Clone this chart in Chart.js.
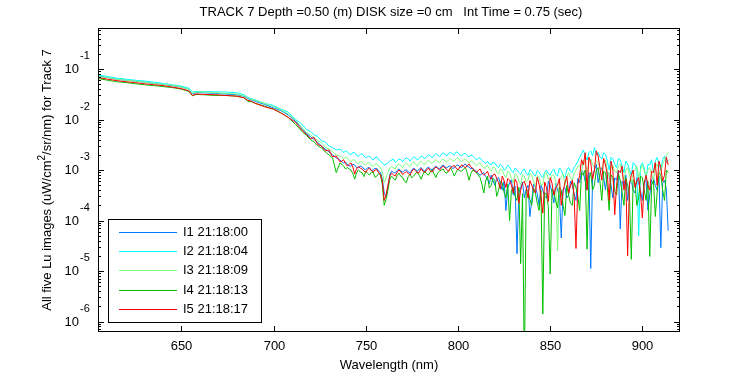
<!DOCTYPE html>
<html lang="en">
<head>
<meta charset="UTF-8">
<title>TRACK 7 Lu images</title>
<script src="https://cdn.jsdelivr.net/npm/chart.js"></script>
<style>
    html, body { margin: 0; padding: 0; background: #fff; }
    .chart-container { position: relative; width: 750px; height: 375px; }
</style>
</head>
<body>
<div class="chart-container"><canvas id="luChart"></canvas></div>
<script>
// wavelengths (nm), shared by all five images
const wavelengths = [
    605, 610, 615, 620, 625, 630, 635, 640, 645, 650, 654, 656, 658, 662, 668, 674, 680, 684, 686, 688, 690, 695, 700, 704, 708,
    712, 714, 716, 718, 720, 722, 724, 726, 728, 730, 732, 734,
    736, 737, 738, 739, 740, 741, 742, 743, 744, 745,
    746, 747, 748, 749, 750, 751, 752, 753, 754, 755,
    756, 757, 758, 759, 760, 761, 762, 763, 764, 765,
    766, 767, 768, 769, 770, 771, 772, 773, 774, 775,
    776, 777, 778, 779, 780, 781, 782, 783, 784, 785,
    786, 787, 788, 789, 790, 791, 792, 793, 794, 795,
    796, 797, 798, 799, 800, 801, 802, 803, 804, 805,
    806, 807, 808, 809, 810, 811, 812, 813, 814,
    815, 816, 817, 818, 819, 820, 821, 822, 823, 824,
    825, 826, 827, 828, 829, 830, 831, 832, 833, 834,
    835, 836, 837, 838, 839, 840, 841, 842, 843, 844,
    845, 846, 847, 848, 849, 850, 851, 852, 853, 854,
    855, 856, 857, 858, 859, 860, 861, 862, 863, 864,
    865, 866, 867, 868, 869, 870, 871, 872, 873, 874,
    875, 876, 877, 878, 879, 880, 881, 882, 883, 884,
    885, 886, 887, 888, 889, 890, 891, 892, 893, 894,
    895, 896, 897, 898, 899, 900, 901, 902, 903, 904,
    905, 906, 907, 908, 909, 910, 911, 912, 913, 914
];

// Lu, uW/cm^2/sr/nm
const luI1 = [
    7.2e-2, 6.8e-2, 6.3e-2, 6.0e-2, 5.8e-2, 5.5e-2, 5.2e-2, 5.0e-2, 4.7e-2, 4.4e-2, 4.0e-2, 3.2e-2, 3.4e-2, 3.4e-2, 3.3e-2, 3.2e-2, 3.1e-2, 2.9e-2, 2.6e-2, 2.45e-2, 2.3e-2, 2.0e-2, 1.7e-2, 1.5e-2, 1.23e-2,
    9.1e-3, 7.6e-3, 6.3e-3, 5.2e-3, 4.6e-3, 4.0e-3, 3.5e-3, 3.0e-3, 2.6e-3, 2.3e-3, 2.0e-3, 1.74e-3,
    1.58e-3, 1.45e-3, 1.38e-3, 1.42e-3, 1.32e-3, 1.2e-3, 1.2e-3, 1.3e-3, 1.26e-3, 1.12e-3,
    1.1e-3, 1.2e-3, 1.17e-3, 1.05e-3, 1.02e-3, 1.1e-3, 1.12e-3, 9.8e-4, 1.0e-3, 1.08e-3,
    1.07e-3, 9.5e-4, 8.9e-4, 6.5e-4, 3.5e-4, 3.0e-4, 4.5e-4, 8.0e-4, 9.5e-4, 9.0e-4,
    8.7e-4, 9.8e-4, 1.05e-3, 9.6e-4, 9.1e-4, 9.8e-4, 1.02e-3, 9.2e-4, 8.7e-4, 1.0e-3,
    1.1e-3, 1.0e-3, 9.5e-4, 1.05e-3, 1.12e-3, 1.0e-3, 9.5e-4, 1.08e-3, 1.15e-3, 1.05e-3,
    1.0e-3, 1.12e-3, 1.2e-3, 1.1e-3, 1.05e-3, 1.18e-3, 1.26e-3, 1.15e-3, 1.1e-3, 1.2e-3,
    1.2e-3, 1.08e-3, 1.1e-3, 1.22e-3, 1.26e-3, 1.15e-3, 1.12e-3, 1.25e-3, 1.32e-3, 1.2e-3,
    1.15e-3, 1.05e-3, 1.1e-3, 9.8e-4, 9.5e-4, 8.5e-4, 7.9e-4, 8.4e-4, 8.9e-4,
    7.4e-4, 6.6e-4, 5.4e-4, 7.9e-4, 6.2e-4, 5.0e-4, 6.6e-4, 7.1e-4, 5.5e-4, 4.0e-4,
    6.0e-4, 1.58e-4, 4.4e-4, 5.6e-4, 6.4e-4, 3.2e-4, 4.8e-4, 2.2e-5, 3.6e-4, 4.5e-4,
    5.8e-4, 2.8e-4, 4.2e-4, 5.0e-4, 1.2e-4, 2.5e-4, 5.2e-4, 4.5e-4, 3.4e-4, 2.0e-4,
    5.0e-4, 4.0e-4, 3.0e-4, 2.8e-4, 6.0e-4, 5.0e-4, 3.6e-4, 2.24e-4, 5.5e-4, 4.0e-4,
    3.2e-4, 4.5e-5, 4.2e-4, 4.5e-4, 2.8e-4, 3.2e-4, 6.0e-4, 5.0e-4, 3.4e-4, 2.5e-4,
    6.8e-4, 5.6e-4, 1.0e-3, 8.9e-4, 6.0e-4, 4.0e-4, 9.0e-4, 1.12e-5, 7.5e-4, 1.0e-3,
    1.3e-3, 5.6e-4, 8.5e-4, 1.12e-3, 7.2e-4, 4.0e-4, 9.5e-4, 7.9e-4, 5.0e-4, 2.8e-4,
    7.0e-4, 6.3e-4, 1.0e-3, 6.8e-5, 6.0e-4, 5.0e-4, 8.0e-4, 2.5e-4, 5.2e-4, 6.3e-4,
    4.0e-4, 3.5e-4, 7.0e-4, 5.6e-4, 3.8e-4, 2.5e-4, 5.8e-4, 6.3e-4, 1.6e-4, 3.2e-4,
    6.5e-4, 7.1e-4, 5.0e-4, 4.0e-4, 7.5e-4, 2.9e-5, 5.5e-4, 6.3e-4, 4.2e-4, 6.3e-5
];
const luI2 = [
    7.6e-2, 7.1e-2, 6.6e-2, 6.3e-2, 6.0e-2, 5.8e-2, 5.5e-2, 5.2e-2, 4.9e-2, 4.6e-2, 4.2e-2, 3.5e-2, 3.6e-2, 3.55e-2, 3.55e-2, 3.5e-2, 3.4e-2, 3.1e-2, 2.75e-2, 2.6e-2, 2.45e-2, 2.1e-2, 1.9e-2, 1.6e-2, 1.4e-2,
    1.0e-2, 8.9e-3, 7.6e-3, 6.3e-3, 5.8e-3, 5.0e-3, 4.6e-3, 3.8e-3, 3.6e-3, 3.0e-3, 2.8e-3, 2.5e-3,
    2.6e-3, 2.45e-3, 2.2e-3, 2.4e-3, 2.3e-3, 2.1e-3, 2.0e-3, 2.25e-3, 2.2e-3, 1.95e-3,
    1.86e-3, 2.05e-3, 2.1e-3, 1.9e-3, 1.74e-3, 1.85e-3, 1.9e-3, 1.7e-3, 1.58e-3, 1.75e-3,
    1.82e-3, 1.6e-3, 1.5e-3, 1.4e-3, 1.26e-3, 1.3e-3, 1.38e-3, 1.5e-3, 1.58e-3, 1.65e-3,
    1.4e-3, 1.55e-3, 1.66e-3, 1.6e-3, 1.45e-3, 1.62e-3, 1.74e-3, 1.68e-3, 1.5e-3, 1.7e-3,
    1.82e-3, 1.75e-3, 1.58e-3, 1.7e-3, 1.9e-3, 1.8e-3, 1.66e-3, 1.85e-3, 2.0e-3, 1.9e-3,
    1.74e-3, 1.95e-3, 2.1e-3, 2.0e-3, 1.82e-3, 2.05e-3, 2.2e-3, 2.05e-3, 1.9e-3, 2.15e-3,
    2.24e-3, 2.1e-3, 2.0e-3, 2.3e-3, 2.2e-3, 2.0e-3, 1.9e-3, 2.1e-3, 2.14e-3, 1.95e-3,
    1.82e-3, 2.0e-3, 1.9e-3, 1.75e-3, 1.58e-3, 1.7e-3, 1.74e-3, 1.55e-3, 1.45e-3,
    1.35e-3, 1.5e-3, 1.32e-3, 1.26e-3, 1.45e-3, 1.38e-3, 1.2e-3, 1.12e-3, 1.3e-3, 1.2e-3,
    1.0e-3, 1.05e-3, 1.25e-3, 1.15e-3, 9.6e-4, 8.9e-4, 1.1e-3, 1.0e-3, 9.0e-4, 8.3e-4,
    9.8e-4, 1.05e-3, 8.6e-4, 7.9e-4, 1.02e-3, 9.5e-4, 8.2e-4, 7.6e-4, 9.8e-4, 9.1e-4,
    7.8e-4, 7.1e-4, 9.0e-4, 1.0e-3, 8.4e-4, 7.9e-4, 9.6e-4, 1.05e-3, 8.2e-4, 7.6e-4,
    1.1e-3, 1.0e-3, 8.0e-4, 7.1e-4, 1.0e-3, 1.12e-3, 9.4e-4, 8.9e-4, 1.15e-3, 1.26e-3,
    1.5e-3, 1.78e-3, 2.1e-3, 2.5e-3, 1.9e-3, 1.58e-3, 2.2e-3, 2.4e-3, 1.9e-3, 2.8e-3,
    2.0e-3, 2.24e-3, 1.8e-3, 1.66e-3, 2.2e-3, 2.0e-3, 1.5e-3, 1.0e-3, 1.8e-3, 1.66e-3,
    1.3e-3, 1.12e-3, 1.7e-3, 1.58e-3, 1.2e-3, 8.9e-4, 1.5e-3, 1.32e-3, 1.0e-3, 7.9e-4,
    1.4e-3, 1.26e-3, 1.1e-3, 5.0e-5, 1.2e-3, 1.4e-3, 1.1e-3, 6.3e-4, 1.3e-3, 1.26e-3,
    1.6e-3, 8.9e-4, 1.5e-3, 1.78e-3, 1.3e-3, 1.0e-3, 1.6e-3, 1.9e-3, 1.4e-3, 1.58e-3
];
const luI3 = [
    7.1e-2, 6.8e-2, 6.3e-2, 6.0e-2, 5.8e-2, 5.5e-2, 5.2e-2, 5.0e-2, 4.8e-2, 4.4e-2, 4.0e-2, 3.3e-2, 3.5e-2, 3.5e-2, 3.4e-2, 3.3e-2, 3.2e-2, 2.95e-2, 2.7e-2, 2.5e-2, 2.4e-2, 2.1e-2, 1.8e-2, 1.55e-2, 1.3e-2,
    9.5e-3, 7.9e-3, 6.6e-3, 5.5e-3, 5.0e-3, 4.4e-3, 3.8e-3, 3.5e-3, 2.8e-3, 2.6e-3, 2.3e-3, 2.0e-3,
    1.9e-3, 1.8e-3, 1.66e-3, 1.8e-3, 1.74e-3, 1.55e-3, 1.45e-3, 1.6e-3, 1.58e-3, 1.4e-3,
    1.32e-3, 1.5e-3, 1.45e-3, 1.3e-3, 1.26e-3, 1.4e-3, 1.38e-3, 1.22e-3, 1.17e-3, 1.3e-3,
    1.32e-3, 1.18e-3, 1.12e-3, 9.0e-4, 5.6e-4, 7.0e-4, 8.9e-4, 1.1e-3, 1.2e-3, 1.1e-3,
    1.05e-3, 1.25e-3, 1.32e-3, 1.2e-3, 1.12e-3, 1.28e-3, 1.38e-3, 1.25e-3, 1.17e-3, 1.35e-3,
    1.45e-3, 1.3e-3, 1.2e-3, 1.4e-3, 1.5e-3, 1.35e-3, 1.26e-3, 1.45e-3, 1.58e-3, 1.42e-3,
    1.35e-3, 1.5e-3, 1.62e-3, 1.48e-3, 1.4e-3, 1.55e-3, 1.66e-3, 1.5e-3, 1.45e-3, 1.6e-3,
    1.7e-3, 1.55e-3, 1.5e-3, 1.68e-3, 1.74e-3, 1.58e-3, 1.45e-3, 1.6e-3, 1.66e-3, 1.5e-3,
    1.38e-3, 1.52e-3, 1.5e-3, 1.32e-3, 1.2e-3, 1.35e-3, 1.38e-3, 1.2e-3, 1.1e-3,
    1.1e-3, 1.26e-3, 1.05e-3, 9.5e-4, 1.15e-3, 1.12e-3, 9.0e-4, 8.3e-4, 1.05e-3, 1.0e-3,
    8.0e-4, 7.1e-4, 9.5e-4, 8.9e-4, 6.8e-4, 5.6e-4, 8.5e-4, 7.9e-4, 6.2e-4, 5.0e-4,
    8.2e-4, 7.6e-4, 5.8e-4, 6.3e-4, 8.6e-4, 7.9e-4, 6.0e-4, 4.5e-4, 7.8e-4, 7.1e-4,
    5.0e-4, 5.2e-4, 8.4e-4, 8.9e-4, 6.6e-4, 6.3e-4, 8.0e-4, 7.9e-4, 6.0e-4, 2.5e-5,
    6.4e-4, 7.1e-4, 8.4e-4, 5.0e-4, 7.2e-4, 8.9e-4, 7.0e-4, 6.3e-4, 8.5e-4, 1.0e-3,
    1.15e-3, 1.26e-3, 9.0e-4, 1.58e-3, 1.3e-3, 8.9e-4, 1.4e-3, 1.66e-3, 1.3e-3, 1.12e-3,
    1.5e-3, 1.4e-3, 1.1e-3, 1.0e-3, 1.45e-3, 1.58e-3, 1.0e-3, 7.1e-4, 1.1e-3, 1.26e-3,
    9.5e-4, 8.9e-4, 1.2e-3, 1.32e-3, 9.0e-4, 6.3e-4, 1.0e-3, 1.12e-3, 8.0e-4, 5.6e-4,
    9.0e-4, 1.0e-3, 1.2e-3, 7.1e-4, 1.0e-3, 1.26e-3, 9.5e-4, 7.9e-4, 1.0e-3, 1.12e-3,
    8.5e-4, 6.3e-4, 1.1e-3, 1.32e-3, 1.0e-3, 8.9e-4, 1.3e-3, 1.58e-3, 1.9e-3, 2.24e-3
];
const luI4 = [
    6.5e-2, 6.0e-2, 5.6e-2, 5.4e-2, 5.1e-2, 4.9e-2, 4.7e-2, 4.5e-2, 4.3e-2, 4.0e-2, 3.6e-2, 2.95e-2, 3.15e-2, 3.1e-2, 3.0e-2, 3.0e-2, 2.9e-2, 2.7e-2, 2.3e-2, 2.25e-2, 2.1e-2, 1.85e-2, 1.6e-2, 1.35e-2, 1.1e-2,
    7.9e-3, 6.6e-3, 5.5e-3, 4.8e-3, 4.0e-3, 3.6e-3, 3.0e-3, 2.75e-3, 2.3e-3, 2.0e-3, 1.74e-3, 8.9e-4,
    1.38e-3, 1.3e-3, 1.2e-3, 1.05e-3, 1.12e-3, 1.05e-3, 1.0e-3, 8.5e-4, 6.6e-4, 8.8e-4,
    1.0e-3, 9.2e-4, 8.9e-4, 7.4e-4, 9.5e-4, 8.6e-4, 7.9e-4, 9.0e-4, 9.1e-4, 7.2e-4,
    7.6e-4, 8.5e-4, 8.3e-4, 5.0e-4, 2.0e-4, 2.6e-4, 4.0e-4, 6.5e-4, 7.6e-4, 6.8e-4,
    6.3e-4, 7.8e-4, 8.7e-4, 7.5e-4, 7.2e-4, 6.0e-4, 5.6e-4, 7.4e-4, 8.3e-4, 7.0e-4,
    7.6e-4, 8.6e-4, 9.1e-4, 7.8e-4, 6.6e-4, 8.2e-4, 9.5e-4, 8.4e-4, 7.9e-4, 9.2e-4,
    1.0e-3, 8.5e-4, 7.1e-4, 8.8e-4, 9.5e-4, 1.0e-3, 1.05e-3, 9.0e-4, 8.7e-4, 9.8e-4,
    1.1e-3, 9.4e-4, 7.6e-4, 9.0e-4, 1.05e-3, 9.6e-4, 9.5e-4, 1.05e-3, 1.12e-3, 8.8e-4,
    6.3e-4, 8.5e-4, 1.0e-3, 9.4e-4, 8.9e-4, 8.0e-4, 7.1e-4, 5.2e-4, 3.5e-4,
    6.0e-4, 7.6e-4, 4.4e-4, 5.0e-4, 6.8e-4, 6.3e-4, 3.0e-4, 4.0e-4, 6.0e-4, 5.6e-4,
    3.6e-4, 2.8e-4, 5.2e-4, 1.0e-4, 4.0e-4, 4.5e-4, 3.0e-4, 2.5e-4, 4.6e-4, 1.4e-5,
    3.4e-4, 1e-7, 3.8e-4, 4.0e-4, 2.6e-4, 2.0e-4, 4.4e-4, 3.5e-4, 2.2e-4, 1.58e-4,
    4.0e-4, 1.4e-6, 3.6e-4, 3.2e-4, 1.9e-4, 8.7e-6, 4.2e-4, 3.5e-4, 2.4e-4, 1.78e-4,
    4.6e-4, 4.0e-4, 2.0e-4, 1.26e-4, 5.0e-4, 3.2e-4, 2.2e-4, 2.0e-4, 5.6e-4, 4.5e-4,
    3.0e-4, 1.58e-4, 9.0e-4, 7.9e-4, 1.0e-3, 2.7e-5, 6.5e-4, 8.9e-4, 4.0e-4, 5.0e-4,
    1.0e-3, 1.12e-3, 6.0e-4, 2.5e-4, 9.5e-4, 8.9e-4, 4.5e-4, 1.58e-4, 8.0e-4, 7.1e-4,
    3.8e-4, 3.2e-4, 8.2e-4, 6.3e-4, 3.6e-4, 2.0e-4, 7.0e-4, 5.0e-4, 3.0e-4, 1.7e-5,
    6.4e-4, 5.6e-4, 2.0e-4, 2.8e-4, 7.5e-4, 7.1e-4, 4.0e-4, 2.5e-4, 6.0e-4, 1.95e-5,
    5.0e-4, 6.3e-4, 1.2e-4, 3.5e-4, 9.0e-4, 7.9e-4, 4.0e-4, 2.5e-4, 1.0e-3, 8.9e-4
];
const luI5 = [
    6.8e-2, 6.3e-2, 5.9e-2, 5.6e-2, 5.4e-2, 5.1e-2, 4.9e-2, 4.7e-2, 4.4e-2, 4.1e-2, 3.7e-2, 3.0e-2, 3.2e-2, 3.15e-2, 3.1e-2, 3.0e-2, 2.9e-2, 2.7e-2, 2.4e-2, 2.3e-2, 2.1e-2, 1.8e-2, 1.6e-2, 1.35e-2, 1.1e-2,
    8.7e-3, 7.1e-3, 5.8e-3, 5.0e-3, 4.2e-3, 4.4e-3, 3.2e-3, 3.0e-3, 2.4e-3, 2.5e-3, 1.82e-3, 1.9e-3,
    1.45e-3, 1.5e-3, 1.6e-3, 1.35e-3, 1.2e-3, 1.3e-3, 1.38e-3, 1.15e-3, 8.3e-4, 1.05e-3,
    1.17e-3, 1.1e-3, 1.05e-3, 9.6e-4, 8.9e-4, 1.02e-3, 1.1e-3, 9.8e-4, 9.1e-4, 1.0e-3,
    1.02e-3, 8.8e-4, 7.9e-4, 6.0e-4, 2.5e-4, 3.2e-4, 5.0e-4, 7.5e-4, 8.7e-4, 8.0e-4,
    7.6e-4, 9.0e-4, 1.0e-3, 9.2e-4, 8.1e-4, 8.8e-4, 9.3e-4, 8.6e-4, 7.9e-4, 9.4e-4,
    1.05e-3, 9.8e-4, 8.7e-4, 9.0e-4, 1.07e-3, 9.5e-4, 8.9e-4, 1.0e-3, 1.1e-3, 9.6e-4,
    9.1e-4, 1.05e-3, 1.15e-3, 1.08e-3, 1.0e-3, 1.1e-3, 1.2e-3, 1.1e-3, 1.02e-3, 9.4e-4,
    1.12e-3, 1.18e-3, 1.23e-3, 1.1e-3, 1.0e-3, 1.15e-3, 1.26e-3, 1.2e-3, 1.1e-3, 1.22e-3,
    1.32e-3, 1.15e-3, 1.07e-3, 9.6e-4, 8.9e-4, 9.8e-4, 1.05e-3, 8.6e-4, 7.9e-4,
    8.5e-4, 9.5e-4, 7.4e-4, 6.6e-4, 8.0e-4, 8.3e-4, 6.9e-4, 5.6e-4, 4.2e-4, 7.6e-4,
    6.2e-4, 4.5e-4, 6.8e-4, 6.3e-4, 5.0e-4, 3.5e-4, 6.6e-4, 5.6e-4, 2.2e-4, 4.0e-4,
    5.4e-4, 6.0e-4, 4.6e-4, 2.8e-4, 6.2e-4, 5.0e-4, 3.9e-4, 3.5e-4, 7.2e-4, 5.2e-4,
    3.0e-4, 1.4e-4, 5.8e-4, 4.5e-4, 2.4e-4, 7.1e-4, 5.5e-4, 3.2e-4, 4.4e-4, 5.0e-4,
    6.8e-4, 2.0e-4, 3.8e-4, 5.6e-4, 7.5e-4, 3.5e-4, 4.8e-4, 6.3e-4, 3.0e-4, 2.8e-5,
    5.2e-4, 7.9e-4, 1.6e-3, 1.26e-3, 2.2e-3, 4.0e-4, 1.8e-3, 1.4e-3, 6.5e-4, 1.0e-3,
    2.4e-3, 1.9e-3, 1.1e-3, 6.3e-4, 1.7e-3, 1.26e-3, 8.0e-4, 2.5e-4, 1.5e-3, 1.0e-3,
    1.3e-4, 5.0e-4, 9.8e-4, 8.9e-4, 1.2e-3, 4.0e-4, 6.5e-4, 2.0e-5, 5.5e-4, 7.9e-4,
    1.0e-3, 4.5e-4, 6.0e-4, 7.1e-4, 3.4e-4, 1.12e-4, 5.6e-4, 7.9e-4, 5.0e-4, 4.0e-4,
    9.5e-4, 8.9e-4, 1.4e-3, 5.0e-4, 1.5e-3, 1.12e-3, 6.0e-4, 7.9e-4, 1.8e-3, 1.26e-3
];

const seriesLabels = ['I1 21:18:00', 'I2 21:18:04', 'I3 21:18:09', 'I4 21:18:13', 'I5 21:18:17'];
const seriesColors = ['#0078ff', '#00ffff', '#80ff80', '#00c000', '#ff0000'];

const xTicks = [650, 700, 750, 800, 850, 900];
const yDecades = [1e-6, 1e-5, 1e-4, 1e-3, 1e-2, 1e-1];
const yExponents = ['-6', '-5', '-4', '-3', '-2', '-1'];

const titleText = 'TRACK 7 Depth =0.50 (m) DISK size =0 cm   Int Time = 0.75 (sec)';
const xLabel = 'Wavelength (nm)';
const yLabelParts = ['All five Lu images (uW/cm', '2', '/sr/nm) for Track 7'];

const FONT = '"Liberation Sans", Arial, Helvetica, sans-serif';

// axes box, inward ticks, 10^n labels and boxed legend, drawn like the matlab figure
const matlabAxes = {
    id: 'matlabAxes',
    afterDatasetsDraw(chart) {
        const { ctx, chartArea: a, scales } = chart;
        const xs = scales.x, ys = scales.y;
        const seg = (x1, y1, x2, y2) => {
            ctx.beginPath();
            ctx.moveTo(x1, y1);
            ctx.lineTo(x2, y2);
            ctx.stroke();
        };
        ctx.save();
        ctx.strokeStyle = '#000';
        ctx.fillStyle = '#000';
        ctx.lineWidth = 1;
        ctx.strokeRect(a.left + 0.5, a.top + 0.5, a.right - a.left - 1, a.bottom - a.top - 1);

        // x ticks
        ctx.font = '13px ' + FONT;
        ctx.textAlign = 'center';
        ctx.textBaseline = 'middle';
        xTicks.forEach(v => {
            const px = Math.round(xs.getPixelForValue(v)) + 0.5;
            seg(px, a.bottom, px, a.bottom - 6);
            seg(px, a.top, px, a.top + 6);
            ctx.fillText(String(v), px, a.bottom + 14);
        });

        // y minor ticks
        for (let e = -7; e <= 0; e++) {
            for (let m = 2; m <= 9; m++) {
                const v = m * Math.pow(10, e);
                if (v < ys.min || v > ys.max) continue;
                const py = Math.round(ys.getPixelForValue(v)) + 0.5;
                seg(a.left, py, a.left + 3, py);
                seg(a.right, py, a.right - 3, py);
            }
        }

        // y decades
        yDecades.forEach((v, i) => {
            const py = Math.round(ys.getPixelForValue(v)) + 0.5;
            seg(a.left, py, a.left + 6, py);
            seg(a.right, py, a.right - 6, py);
            ctx.font = '13px ' + FONT;
            ctx.textAlign = 'right';
            ctx.fillText('10', a.left - 19, py);
            ctx.font = '11px ' + FONT;
            ctx.textAlign = 'left';
            ctx.fillText(yExponents[i], a.left - 18, py - 14);
        });

        // title and axis labels
        const cx = (a.left + a.right) / 2;
        ctx.font = '13px ' + FONT;
        ctx.textAlign = 'center';
        ctx.fillText(titleText, cx + 2, 12);
        ctx.fillText(xLabel, cx, 365);

        ctx.save();
        ctx.translate(47, (a.top + a.bottom) / 2);
        ctx.rotate(-Math.PI / 2);
        ctx.font = '13px ' + FONT;
        const w1 = ctx.measureText(yLabelParts[0]).width;
        const w3 = ctx.measureText(yLabelParts[2]).width;
        ctx.font = '10px ' + FONT;
        const w2 = ctx.measureText(yLabelParts[1]).width;
        let sx = -(w1 + w2 + w3) / 2;
        ctx.textAlign = 'left';
        ctx.font = '13px ' + FONT;
        ctx.fillText(yLabelParts[0], sx, 0);
        sx += w1;
        ctx.font = '10px ' + FONT;
        ctx.fillText(yLabelParts[1], sx, -5);
        sx += w2;
        ctx.font = '13px ' + FONT;
        ctx.fillText(yLabelParts[2], sx, 0);
        ctx.restore();

        // legend
        const lx = 108.5, ly = 219.5, lw = 153, lh = 103;
        ctx.fillStyle = '#fff';
        ctx.fillRect(lx, ly, lw, lh);
        ctx.strokeStyle = '#000';
        ctx.strokeRect(lx, ly, lw, lh);
        ctx.font = '13px ' + FONT;
        ctx.textAlign = 'left';
        chart.data.datasets.forEach((ds, i) => {
            const ry = Math.round(ly + 12 + i * 19.4) + 0.5;
            ctx.strokeStyle = ds.borderColor;
            seg(119, ry, 177, ry);
            ctx.fillStyle = '#000';
            ctx.fillText(ds.label, 183, ry);
        });
        ctx.restore();
    }
};

const allSeries = [luI1, luI2, luI3, luI4, luI5];

new Chart(document.getElementById('luChart'), {
    type: 'line',
    data: {
        datasets: allSeries.map((vals, i) => ({
            label: seriesLabels[i],
            data: wavelengths.map((w, j) => ({ x: w, y: vals[j] })),
            borderColor: seriesColors[i],
            borderWidth: 1,
            pointRadius: 0,
            tension: 0,
            fill: false,
            clip: 0,
            order: allSeries.length - i
        }))
    },
    options: {
        responsive: true,
        maintainAspectRatio: false,
        animation: false,
        events: [],
        layout: { padding: { left: 98, right: 70, top: 28, bottom: 43 } },
        plugins: {
            legend: { display: false },
            tooltip: { enabled: false },
            title: { display: false }
        },
        scales: {
            x: { type: 'linear', min: 604.8, max: 920.4, display: false },
            y: { type: 'logarithmic', min: 6.2e-7, max: 0.65, display: false }
        }
    },
    plugins: [matlabAxes]
});
</script>
</body>
</html>
